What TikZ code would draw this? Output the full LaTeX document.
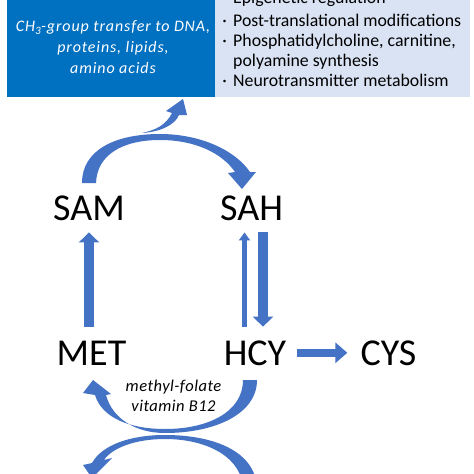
\documentclass[tikz,border=0pt]{standalone}
\usepackage{fontspec}
\setmainfont{Carlito}
\newfontfamily\spacedfont{Carlito}[LetterSpace=5.5]
\newfontfamily\cofactorfont{Carlito}[LetterSpace=3]
\usetikzlibrary{arrows.meta,calc}
\definecolor{boxblue}{RGB}{0,112,192}
\definecolor{boxpale}{RGB}{218,227,243}
\definecolor{arrowblue}{RGB}{68,114,196}
\tikzset{
	metabolite/.style={font=\fontsize{38}{40}\selectfont, inner sep=0pt, anchor=base},
	listitem/.style={font=\fontsize{17.8}{20}\selectfont, inner sep=0pt, anchor=base west},
	leftline/.style={font={\spacedfont\fontsize{16}{18}\selectfont\itshape}, text=white, inner sep=0pt, anchor=base},
	cofactor/.style={font={\cofactorfont\fontsize{16.5}{18}\selectfont\itshape}, inner sep=0pt, anchor=base},
	fatarrow/.style={draw=arrowblue, line width=10pt, -{Triangle[width=20pt,length=10pt]}},
	thinarrow/.style={draw=arrowblue, line width=5pt, -{Triangle[width=11pt,length=8pt]}},
	sidearrow/.style={draw=arrowblue, line width=8pt, -{Triangle[width=20pt,length=12pt]}},
	bendarrow/.style={fill=arrowblue, draw=none}
}

\begin{document}
\begin{tikzpicture}[x=1pt, y=-1pt]
			%%%%% START %%%%%
			\useasboundingbox (0, 0) rectangle (474, 474);
			\fill[white] (0, 0) rectangle (474, 474);
			\clip (0, 0) rectangle (474, 474);
			
			% boxes
			\fill[boxblue] (7, -5) rectangle (215, 97);
			\fill[boxpale] (215, -5) rectangle (470, 97);
			
			\node[leftline] (ch3) at (113, 31.7) {CH\textsubscript{3}-group transfer to DNA,};
			\node[leftline] (prot) at (113, 52.5) {proteins, lipids,};
			\node[leftline] (amino) at (113, 73) {amino acids};
			
			\node[listitem] (epi) at (233, 3) {Epigenetic regulation};
			\node[listitem] (ptm) at (233, 26) {Post-translational modifications};
			\node[listitem] (pc) at (233, 46.5) {Phosphatidylcholine, carnitine,};
			\node[listitem] (poly) at (233, 66) {polyamine synthesis};
			\node[listitem] (neuro) at (233, 86) {Neurotransmitter metabolism};
			\node[listitem, anchor=base east] (dot1) at ([xshift=-6pt]epi.base west) {\textperiodcentered};
			\node[listitem, anchor=base east] (dot2) at ([xshift=-6pt]ptm.base west) {\textperiodcentered};
			\node[listitem, anchor=base east] (dot3) at ([xshift=-6pt]pc.base west) {\textperiodcentered};
			\node[listitem, anchor=base east] (dot4) at ([xshift=-6pt]neuro.base west) {\textperiodcentered};
			
			% metabolites
			\node[metabolite] (sam) at (89, 220) {SAM};
			\node[metabolite] (sah) at (251.5, 220) {SAH};
			\node[metabolite] (met) at (91.5, 365) {MET};
			\node[metabolite] (hcy) at (255, 365) {HCY};
			\node[metabolite] (cys) at (388.5, 365) {CYS};
			
			\node[cofactor] (folate) at (173.5, 391.7) {methyl-folate};
			\node[cofactor] (b12) at (173.5, 411.7) {vitamin B12};
			
			% straight arrows
			\draw[fatarrow, shorten <=13.5pt, shorten >=12pt] (sam.south |- met.north) -- (sam.south);
			\draw[fatarrow, shorten <=12pt, shorten >=13.5pt] ([xshift=11.5pt]sah.south) -- ([xshift=11.5pt]sah.south |- hcy.north);
			\draw[thinarrow, shorten <=13.5pt, shorten >=12pt] ([xshift=-7pt]sah.south |- hcy.north) -- ([xshift=-7pt]sah.south);
			\draw[sidearrow, shorten <=11pt, shorten >=13pt] (hcy.east) -- (cys.west);
			
			% bent arrows
			\fill[bendarrow] (82, 183) .. controls (82, 150) and (115, 134) .. (160, 134)
				.. controls (200, 134) and (235, 150) .. (250, 172) -- (256, 172) -- (242, 189) -- (228, 173) -- (235, 172)
				.. controls (222, 153) and (195, 140) .. (160, 140) .. controls (122, 140) and (97, 155) .. (96, 183) -- cycle;
			
			\fill[bendarrow] (142, 133) .. controls (160, 132) and (175, 125) .. (179, 115) -- (187, 115) -- (183, 99)
				-- (166, 111) -- (172, 113) .. controls (166, 125) and (156, 130) .. (142, 133) -- cycle;
			
			\fill[bendarrow] (257, 380) .. controls (257, 414) and (215, 433) .. (165, 433)
				.. controls (135, 433) and (112, 418) .. (106, 395) -- (111, 394) -- (93, 380) -- (83, 393) -- (95, 395)
				.. controls (102, 418) and (130, 429) .. (165, 429) .. controls (208, 429) and (243, 412) .. (243, 380) -- cycle;
			
			\fill[bendarrow] (257, 490) .. controls (257, 452) and (215, 435) .. (165, 435)
				.. controls (130, 435) and (102, 445) .. (92, 463) -- (83, 465) -- (92, 478) -- (112, 458) -- (104, 460)
				.. controls (112, 448) and (135, 439) .. (165, 439) .. controls (208, 439) and (243, 458) .. (243, 490) -- cycle;
			
			%%%%% END %%%%%
\end{tikzpicture}
\end{document}
